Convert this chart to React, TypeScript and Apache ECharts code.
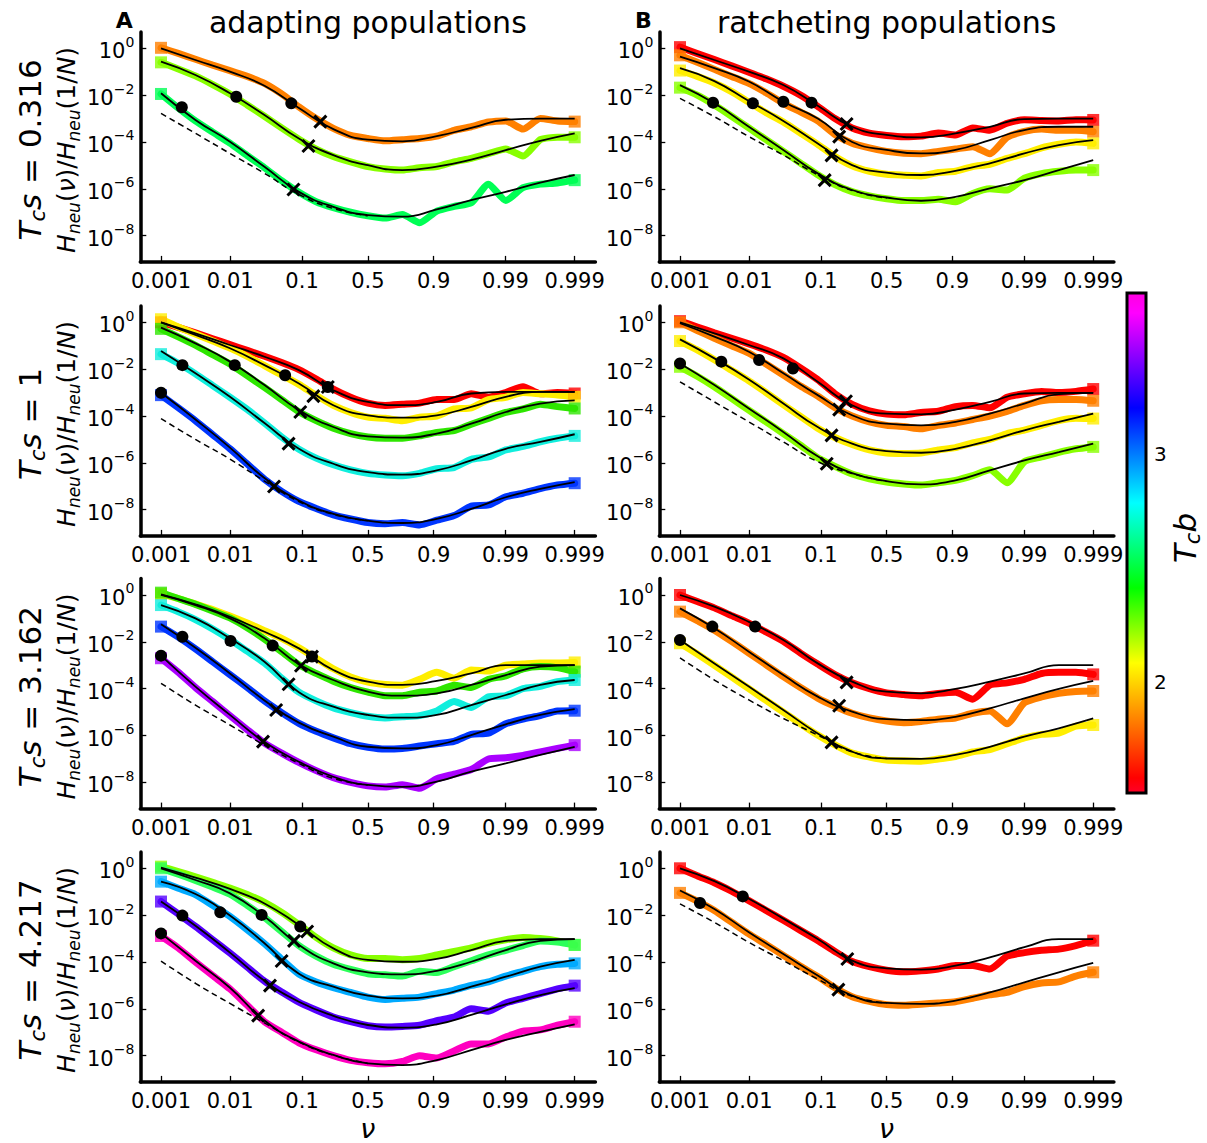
import React, { useEffect, useRef } from "react";
import * as echarts from "echarts";

// ---------- data (ν values; H values stored as log10 H) ----------
const NU_THEORY = [0.001, 0.00315, 0.0099, 0.0307, 0.0909, 0.24, 0.5, 0.76, 0.9091, 0.9693, 0.9901, 0.99685, 0.999];
const NU_DATA = [0.001, 0.00178, 0.00315, 0.00559, 0.0099, 0.0175, 0.0307, 0.0532, 0.0909, 0.151, 0.24, 0.36, 0.5, 0.64, 0.76, 0.849, 0.9091, 0.9468, 0.9693, 0.9825, 0.9901, 0.99441, 0.99685, 0.99822, 0.999];
const NU_DASH = [0.001, 0.00315, 0.0099, 0.0307, 0.0909, 0.24, 0.5];

const NU_TICKS = [0.001, 0.01, 0.1, 0.5, 0.9, 0.99, 0.999];
const NU_TICK_LABELS = ["0.001", "0.01", "0.1", "0.5", "0.9", "0.99", "0.999"];
const LOG_H_TICKS = [-8, -6, -4, -2, 0];
const TCB_TICKS = [2, 3];
const TCB_RANGE = [1.51, 3.71];
const ROW_TCS = ["0.316", "1", "3.162", "4.217"];
const COLUMN_TITLES = ["adapting populations", "ratcheting populations"];
const PANEL_LETTERS = ["A", "B"];

const COL_RED = "#ff0000";
const COL_ORANGE = "#ff8000";
const COL_YELLOW = "#ffee00";
const COL_LIME = "#88ff00";
const COL_SPRING = "#00ff55";
const COL_GREEN = "#2ee600";
const COL_CYAN = "#11eedd";
const COL_BLUE = "#0036ff";
const COL_PURPLE = "#aa00ff";
const COL_SPRING2 = "#2cff5a";
const COL_SKY = "#00aaff";
const COL_VIOLET = "#5500ff";
const COL_PINK = "#ff00c0";

// ----- A1 (Tcs = 0.316, adapting) -----
const A1_ORANGE_D = [0.02, -0.22, -0.47, -0.72, -0.95, -1.2, -1.5, -1.95, -2.5, -3.0, -3.42, -3.72, -3.85, -3.95, -3.9, -3.85, -3.75, -3.5, -3.35, -3.15, -3.1, -3.45, -3.0, -3.1, -3.13];
const A1_ORANGE_T = [0.0, -0.5, -1.0, -1.6, -2.55, -3.45, -3.9, -3.97, -3.75, -3.4, -3.05, -3.0, -3.0];
const A1_LIME_D = [-0.6, -0.88, -1.18, -1.55, -1.95, -2.42, -2.9, -3.4, -3.88, -4.3, -4.62, -4.85, -5.05, -5.15, -5.2, -5.1, -5.05, -4.85, -4.7, -4.5, -4.3, -4.6, -3.9, -3.8, -3.8];
const A1_LIME_T = [-0.57, -1.14, -1.92, -2.85, -3.85, -4.56, -4.99, -5.2, -5.05, -4.75, -4.35, -3.95, -3.63];
const A1_SPRING_D = [-1.95, -2.55, -3.1, -3.58, -4.05, -4.58, -5.1, -5.65, -6.15, -6.55, -6.8, -7.0, -7.15, -7.25, -7.1, -7.45, -6.95, -6.75, -6.6, -5.8, -6.5, -5.95, -5.8, -5.75, -5.63];
const A1_SPRING_T = [-1.92, -3.06, -3.99, -5.06, -6.13, -6.77, -7.12, -7.19, -6.88, -6.48, -6.13, -5.74, -5.41];
const A1_DASH = [-2.78, -3.63, -4.49, -5.34, -6.24, -6.84, -7.15];
const A1_CIRCLES = [[0.072, -2.35], [0.0122, -2.07], [0.002, -2.52]];
const A1_CROSSES = [[0.17, -3.13], [0.121, -4.17], [0.077, -6.03]];

// ----- B1 (Tcs = 0.316, ratcheting) -----
const B1_RED_D = [0.05, -0.22, -0.48, -0.75, -1.02, -1.3, -1.62, -2.0, -2.48, -3.0, -3.4, -3.62, -3.72, -3.78, -3.75, -3.62, -3.7, -3.4, -3.5, -3.2, -3.05, -3.08, -3.1, -3.05, -3.06];
const B1_RED_T = [0, -0.5, -1.0, -1.57, -2.45, -3.35, -3.7, -3.8, -3.63, -3.35, -3.02, -3.0, -3.0];
const B1_ORANGE_D = [-0.3, -0.6, -0.9, -1.2, -1.5, -1.9, -2.35, -2.72, -3.1, -3.68, -4.05, -4.25, -4.4, -4.48, -4.5, -4.4, -4.3, -4.2, -4.5, -3.8, -3.55, -3.45, -3.5, -3.5, -3.56];
const B1_ORANGE_T = [-0.36, -0.85, -1.42, -2.28, -3.0, -4.0, -4.34, -4.49, -4.34, -3.92, -3.49, -3.35, -3.35];
const B1_YELLOW_D = [-0.95, -1.2, -1.48, -1.85, -2.3, -2.75, -3.15, -3.62, -4.1, -4.62, -5.02, -5.25, -5.38, -5.42, -5.45, -5.3, -5.25, -5.05, -4.95, -4.7, -4.5, -4.25, -4.1, -4.0, -4.06];
const B1_YELLOW_T = [-0.85, -1.4, -2.25, -3.1, -4.06, -4.99, -5.31, -5.41, -5.23, -4.91, -4.49, -4.13, -3.92];
const B1_LIME_D = [-1.68, -2.0, -2.42, -2.9, -3.4, -3.9, -4.4, -4.9, -5.4, -5.82, -6.12, -6.3, -6.42, -6.5, -6.5, -6.45, -6.55, -6.2, -6.0, -6.05, -5.55, -5.35, -5.25, -5.2, -5.2];
const B1_LIME_T = [-1.57, -2.35, -3.35, -4.34, -5.34, -6.05, -6.37, -6.51, -6.34, -5.98, -5.63, -5.2, -4.77];
const B1_DASH = [-2.14, -2.92, -3.77, -4.56, -5.4, -6.07, -6.4];
const B1_CIRCLES = [[0.0752, -2.32], [0.0307, -2.28], [0.0113, -2.35], [0.00301, -2.32]];
const B1_CROSSES = [[0.208, -3.23], [0.17, -3.77], [0.137, -4.57], [0.112, -5.63]];

// ----- A2 (Tcs = 1, adapting) -----
const A2_RED_D = [0.0, -0.22, -0.45, -0.7, -0.95, -1.2, -1.45, -1.72, -2.02, -2.42, -2.85, -3.2, -3.45, -3.55, -3.5, -3.45, -3.3, -3.3, -3.05, -3.2, -3.0, -2.75, -3.05, -3.0, -3.04];
const A2_RED_T = [0.0, -0.47, -0.97, -1.47, -2.04, -2.9, -3.4, -3.54, -3.4, -3.04, -2.97, -2.97, -2.97];
const A2_YELLOW_D = [0.13, -0.2, -0.5, -0.8, -1.1, -1.45, -1.85, -2.25, -2.65, -3.12, -3.55, -3.85, -4.05, -4.1, -4.2, -4.05, -4.0, -3.7, -3.65, -3.3, -3.2, -3.0, -3.05, -3.1, -3.18];
const A2_YELLOW_T = [0.0, -0.54, -1.11, -1.83, -2.61, -3.54, -3.97, -4.07, -3.97, -3.61, -3.18, -2.97, -2.97];
const A2_GREEN_D = [-0.28, -0.62, -0.98, -1.38, -1.78, -2.28, -2.78, -3.3, -3.82, -4.2, -4.52, -4.75, -4.9, -4.95, -4.95, -4.85, -4.7, -4.62, -4.35, -4.1, -3.85, -3.7, -3.5, -3.6, -3.68];
const A2_GREEN_T = [-0.23, -0.9, -1.68, -2.68, -3.75, -4.47, -4.87, -4.92, -4.75, -4.33, -3.83, -3.47, -3.33];
const A2_CYAN_D = [-1.36, -1.75, -2.2, -2.7, -3.2, -3.72, -4.3, -4.9, -5.42, -5.8, -6.08, -6.3, -6.45, -6.52, -6.55, -6.45, -6.25, -6.2, -5.85, -5.75, -5.45, -5.3, -5.1, -4.95, -4.85];
const A2_CYAN_T = [-1.23, -2.18, -3.18, -4.3, -5.4, -6.04, -6.4, -6.5, -6.32, -5.9, -5.4, -5.11, -4.78];
const A2_BLUE_D = [-3.11, -3.65, -4.2, -4.8, -5.4, -6.05, -6.7, -7.22, -7.65, -7.95, -8.22, -8.4, -8.55, -8.6, -8.55, -8.65, -8.45, -8.25, -7.85, -7.8, -7.45, -7.3, -7.1, -6.95, -6.87];
const A2_BLUE_T = [-3.01, -4.15, -5.35, -6.65, -7.61, -8.18, -8.47, -8.57, -8.39, -7.97, -7.47, -7.11, -6.82];
const A2_DASH = [-4.11, -5.0, -5.84, -6.78, -7.65, -8.2, -8.47];
const A2_CIRCLES = [[0.208, -2.76], [0.0594, -2.26], [0.0116, -1.83], [0.00204, -1.83], [0.001, -3.01]];
const A2_CROSSES = [[0.208, -2.76], [0.1395, -3.15], [0.0948, -3.83], [0.0662, -5.18], [0.0418, -7.01]];

// ----- B2 (Tcs = 1, ratcheting) -----
const B2_RED_D = [0.05, -0.2, -0.45, -0.68, -0.92, -1.18, -1.5, -1.95, -2.45, -3.05, -3.5, -3.78, -3.92, -3.95, -3.85, -3.8, -3.6, -3.55, -3.65, -3.2, -3.05, -2.95, -3.0, -2.95, -2.85];
const B2_RED_T = [0, -0.47, -0.97, -1.54, -2.54, -3.54, -3.9, -3.93, -3.73, -3.4, -3.04, -3.01, -3.01];
const B2_ORANGE_D = [0.0, -0.35, -0.68, -1.0, -1.32, -1.78, -2.25, -2.72, -3.15, -3.65, -4.0, -4.25, -4.4, -4.45, -4.55, -4.4, -4.3, -4.15, -4.0, -3.8, -3.55, -3.35, -3.3, -3.3, -3.35];
const B2_ORANGE_T = [-0.04, -0.61, -1.26, -2.18, -3.11, -3.97, -4.33, -4.4, -4.25, -3.9, -3.47, -3.07, -3.01];
const B2_YELLOW_D = [-0.8, -1.18, -1.6, -2.05, -2.5, -3.0, -3.52, -4.02, -4.52, -4.92, -5.22, -5.45, -5.58, -5.6, -5.58, -5.45, -5.35, -5.15, -5.0, -4.75, -4.6, -4.4, -4.2, -4.1, -4.11];
const B2_YELLOW_T = [-0.73, -1.54, -2.44, -3.47, -4.47, -5.18, -5.5, -5.57, -5.4, -5.04, -4.61, -4.25, -3.9];
const B2_LIME_D = [-1.9, -2.3, -2.75, -3.25, -3.75, -4.25, -4.75, -5.25, -5.78, -6.15, -6.48, -6.68, -6.82, -6.9, -6.95, -6.85, -6.75, -6.55, -6.3, -6.85, -5.95, -5.75, -5.55, -5.4, -5.32];
const B2_LIME_T = [-1.76, -2.68, -3.68, -4.68, -5.72, -6.44, -6.78, -6.92, -6.75, -6.32, -5.9, -5.54, -5.18];
const B2_DASH = [-2.54, -3.4, -4.25, -5.11, -5.95, -6.46, -6.8];
const B2_CIRCLES = [[0.0418, -1.97], [0.0139, -1.61], [0.00397, -1.68], [0.001, -1.76]];
const B2_CROSSES = [[0.2045, -3.37], [0.17, -3.73], [0.137, -4.83], [0.119, -6.04]];

// ----- A3 (Tcs = 3.162, adapting) -----
const A3_YELLOW_D = [0.05, -0.15, -0.38, -0.62, -0.9, -1.2, -1.52, -1.85, -2.25, -2.7, -3.15, -3.5, -3.72, -3.82, -3.85, -3.6, -3.3, -3.55, -3.2, -3.25, -3.0, -2.95, -2.9, -2.9, -2.88];
const A3_YELLOW_T = [0.03, -0.4, -0.93, -1.57, -2.28, -3.2, -3.7, -3.84, -3.67, -3.35, -2.99, -2.99, -2.99];
const A3_GREEN_D = [0.1, -0.15, -0.4, -0.68, -0.98, -1.4, -1.88, -2.42, -2.98, -3.35, -3.68, -3.95, -4.15, -4.3, -4.3, -4.15, -4.1, -3.85, -3.95, -3.6, -3.45, -3.15, -3.05, -3.1, -3.27];
const A3_GREEN_T = [0, -0.43, -1.0, -1.85, -2.96, -3.63, -4.13, -4.3, -4.2, -3.84, -3.42, -3.06, -2.99];
const A3_CYAN_D = [-0.43, -0.72, -1.05, -1.45, -1.9, -2.4, -2.9, -3.55, -4.15, -4.52, -4.82, -5.02, -5.18, -5.25, -5.2, -5.15, -4.95, -4.55, -4.8, -4.35, -4.3, -4.0, -3.9, -3.7, -3.63];
const A3_CYAN_T = [-0.43, -1.0, -1.85, -2.85, -4.15, -4.77, -5.12, -5.24, -5.12, -4.7, -4.27, -3.84, -3.63];
const A3_BLUE_D = [-1.35, -1.8, -2.3, -2.85, -3.4, -3.95, -4.52, -5.02, -5.48, -5.82, -6.1, -6.35, -6.5, -6.58, -6.55, -6.45, -6.35, -6.25, -5.95, -5.9, -5.5, -5.3, -5.15, -4.95, -4.94];
const A3_BLUE_T = [-1.25, -2.25, -3.35, -4.5, -5.45, -6.05, -6.48, -6.55, -6.41, -5.98, -5.52, -5.12, -4.87];
const A3_PURPLE_D = [-2.7, -3.3, -3.95, -4.55, -5.15, -5.75, -6.32, -6.75, -7.15, -7.5, -7.8, -8.0, -8.15, -8.2, -8.1, -8.25, -7.85, -7.65, -7.45, -7.0, -6.95, -6.85, -6.7, -6.55, -6.41];
const A3_PURPLE_T = [-2.59, -3.91, -5.12, -6.28, -7.12, -7.76, -8.11, -8.19, -7.97, -7.54, -7.19, -6.83, -6.48];
const A3_DASH = [-3.77, -4.7, -5.55, -6.41, -7.19, -7.83, -8.11];
const A3_CIRCLES = [[0.134, -2.63], [0.04, -2.16], [0.0101, -1.96], [0.00204, -1.78], [0.001, -2.59]];
const A3_CROSSES = [[0.134, -2.63], [0.0968, -3.02], [0.0662, -3.81], [0.0447, -4.91], [0.0293, -6.26]];

// ----- B3 (Tcs = 3.162, ratcheting) -----
const B3_RED_D = [0.0, -0.28, -0.55, -0.88, -1.2, -1.58, -1.98, -2.48, -2.95, -3.4, -3.75, -4.0, -4.18, -4.25, -4.3, -4.2, -4.15, -4.45, -3.85, -3.75, -3.6, -3.35, -3.3, -3.3, -3.39];
const B3_RED_T = [0, -0.5, -1.15, -1.92, -2.92, -3.7, -4.13, -4.2, -4.01, -3.7, -3.35, -2.99, -2.99];
const B3_ORANGE_D = [-0.71, -1.1, -1.5, -1.98, -2.48, -2.98, -3.48, -3.95, -4.4, -4.75, -5.05, -5.25, -5.38, -5.45, -5.4, -5.3, -5.25, -5.05, -4.95, -5.5, -4.6, -4.35, -4.2, -4.12, -4.1];
const B3_ORANGE_T = [-0.57, -1.42, -2.42, -3.42, -4.34, -4.98, -5.3, -5.34, -5.2, -4.84, -4.41, -4.01, -3.67];
const B3_YELLOW_D = [-2.06, -2.52, -3.0, -3.5, -4.0, -4.5, -5.0, -5.5, -5.98, -6.4, -6.75, -6.92, -7.05, -7.08, -7.1, -7.0, -6.9, -6.7, -6.6, -6.35, -6.1, -5.95, -5.9, -5.6, -5.55];
const B3_YELLOW_T = [-1.92, -2.92, -3.91, -4.91, -5.91, -6.69, -6.98, -7.0, -6.83, -6.48, -6.05, -5.69, -5.27];
const B3_DASH = [-2.68, -3.63, -4.48, -5.27, -5.98, -6.7, -6.98];
const B3_CIRCLES = [[0.0122, -1.35], [0.00294, -1.35], [0.001, -1.92]];
const B3_CROSSES = [[0.208, -3.73], [0.17, -4.73], [0.137, -6.29]];

// ----- A4 (Tcs = 4.217, adapting) -----
const A4_LIME_D = [0.07, -0.14, -0.36, -0.6, -0.84, -1.12, -1.45, -1.88, -2.4, -2.95, -3.4, -3.7, -3.85, -3.85, -3.9, -3.85, -3.7, -3.55, -3.4, -3.2, -3.05, -2.95, -3.0, -3.1, -3.27];
const A4_LIME_T = [0.03, -0.4, -0.88, -1.5, -2.42, -3.42, -3.91, -3.99, -3.87, -3.49, -3.1, -3.02, -3.02];
const A4_SPRING_D = [0.0, -0.25, -0.52, -0.8, -1.1, -1.58, -2.1, -2.7, -3.3, -3.75, -4.1, -4.32, -4.5, -4.55, -4.6, -4.4, -4.45, -4.2, -3.95, -3.7, -3.5, -3.3, -3.1, -3.15, -3.27];
const A4_SPRING_T = [0, -0.5, -1.07, -2.06, -3.27, -4.06, -4.44, -4.53, -4.38, -3.99, -3.49, -3.1, -3.02];
const A4_SKY_D = [-0.57, -0.85, -1.12, -1.58, -2.05, -2.62, -3.22, -3.88, -4.52, -4.85, -5.1, -5.3, -5.5, -5.6, -5.55, -5.5, -5.35, -5.2, -5.0, -4.85, -4.6, -4.4, -4.2, -4.1, -4.06];
const A4_SKY_T = [-0.57, -1.1, -2.02, -3.2, -4.5, -5.05, -5.44, -5.55, -5.44, -5.05, -4.63, -4.2, -3.91];
const A4_VIOLET_D = [-1.42, -1.95, -2.48, -3.05, -3.62, -4.22, -4.82, -5.28, -5.72, -6.05, -6.35, -6.55, -6.72, -6.78, -6.75, -6.7, -6.5, -6.35, -6.0, -6.1, -5.75, -5.55, -5.35, -5.15, -5.01];
const A4_VIOLET_T = [-1.42, -2.45, -3.6, -4.8, -5.7, -6.3, -6.69, -6.8, -6.66, -6.26, -5.81, -5.41, -5.12];
const A4_PINK_D = [-2.89, -3.4, -4.0, -4.58, -5.15, -5.85, -6.55, -7.0, -7.45, -7.75, -8.0, -8.2, -8.3, -8.35, -8.25, -8.0, -8.1, -7.8, -7.5, -7.5, -7.2, -6.95, -6.9, -6.7, -6.55];
const A4_PINK_T = [-2.78, -3.95, -5.1, -6.5, -7.4, -7.97, -8.33, -8.4, -8.19, -7.76, -7.33, -6.98, -6.66];
const A4_DASH = [-3.96, -4.91, -5.77, -6.6, -7.42, -7.98, -8.33];
const A4_CIRCLES = [[0.0948, -2.49], [0.028, -1.99], [0.00719, -1.88], [0.00204, -2.02], [0.001, -2.78]];
const A4_CROSSES = [[0.1164, -2.7], [0.0784, -3.1], [0.0532, -3.96], [0.0367, -5.01], [0.025, -6.29]];

// ----- B4 (Tcs = 4.217, ratcheting) -----
const B4_RED_D = [0.0, -0.32, -0.62, -0.98, -1.38, -1.8, -2.22, -2.65, -3.08, -3.55, -3.98, -4.2, -4.35, -4.42, -4.38, -4.3, -4.15, -4.15, -4.3, -3.75, -3.6, -3.5, -3.45, -3.3, -3.09];
const B4_RED_T = [0, -0.55, -1.3, -2.15, -3.02, -3.94, -4.27, -4.33, -4.16, -3.8, -3.37, -3.02, -3.02];
const B4_ORANGE_D = [-1.05, -1.4, -1.8, -2.3, -2.8, -3.25, -3.72, -4.18, -4.62, -5.1, -5.48, -5.68, -5.82, -5.85, -5.8, -5.75, -5.7, -5.55, -5.4, -5.3, -5.05, -4.9, -4.85, -4.6, -4.44];
const B4_ORANGE_T = [-0.95, -1.74, -2.73, -3.66, -4.58, -5.44, -5.75, -5.79, -5.65, -5.3, -4.87, -4.44, -4.04];
const B4_DASH = [-1.52, -2.31, -3.16, -3.94, -4.73, -5.46, -5.75];
const B4_CIRCLES = [[0.0081, -1.2], [0.00195, -1.48]];
const B4_CROSSES = [[0.212, -3.87], [0.1664, -5.18]];

// ---------- panel table built from the arrays ----------
const PANELS = [
  { row: 0, col: 0, curves: [[COL_ORANGE, A1_ORANGE_D, A1_ORANGE_T], [COL_LIME, A1_LIME_D, A1_LIME_T], [COL_SPRING, A1_SPRING_D, A1_SPRING_T]], dash: A1_DASH, circles: A1_CIRCLES, crosses: A1_CROSSES },
  { row: 0, col: 1, curves: [[COL_RED, B1_RED_D, B1_RED_T], [COL_ORANGE, B1_ORANGE_D, B1_ORANGE_T], [COL_YELLOW, B1_YELLOW_D, B1_YELLOW_T], [COL_LIME, B1_LIME_D, B1_LIME_T]], dash: B1_DASH, circles: B1_CIRCLES, crosses: B1_CROSSES },
  { row: 1, col: 0, curves: [[COL_RED, A2_RED_D, A2_RED_T], [COL_YELLOW, A2_YELLOW_D, A2_YELLOW_T], [COL_GREEN, A2_GREEN_D, A2_GREEN_T], [COL_CYAN, A2_CYAN_D, A2_CYAN_T], [COL_BLUE, A2_BLUE_D, A2_BLUE_T]], dash: A2_DASH, circles: A2_CIRCLES, crosses: A2_CROSSES },
  { row: 1, col: 1, curves: [[COL_RED, B2_RED_D, B2_RED_T], [COL_ORANGE, B2_ORANGE_D, B2_ORANGE_T], [COL_YELLOW, B2_YELLOW_D, B2_YELLOW_T], [COL_LIME, B2_LIME_D, B2_LIME_T]], dash: B2_DASH, circles: B2_CIRCLES, crosses: B2_CROSSES },
  { row: 2, col: 0, curves: [[COL_YELLOW, A3_YELLOW_D, A3_YELLOW_T], [COL_GREEN, A3_GREEN_D, A3_GREEN_T], [COL_CYAN, A3_CYAN_D, A3_CYAN_T], [COL_BLUE, A3_BLUE_D, A3_BLUE_T], [COL_PURPLE, A3_PURPLE_D, A3_PURPLE_T]], dash: A3_DASH, circles: A3_CIRCLES, crosses: A3_CROSSES },
  { row: 2, col: 1, curves: [[COL_RED, B3_RED_D, B3_RED_T], [COL_ORANGE, B3_ORANGE_D, B3_ORANGE_T], [COL_YELLOW, B3_YELLOW_D, B3_YELLOW_T]], dash: B3_DASH, circles: B3_CIRCLES, crosses: B3_CROSSES },
  { row: 3, col: 0, curves: [[COL_LIME, A4_LIME_D, A4_LIME_T], [COL_SPRING2, A4_SPRING_D, A4_SPRING_T], [COL_SKY, A4_SKY_D, A4_SKY_T], [COL_VIOLET, A4_VIOLET_D, A4_VIOLET_T], [COL_PINK, A4_PINK_D, A4_PINK_T]], dash: A4_DASH, circles: A4_CIRCLES, crosses: A4_CROSSES },
  { row: 3, col: 1, curves: [[COL_RED, B4_RED_D, B4_RED_T], [COL_ORANGE, B4_ORANGE_D, B4_ORANGE_T]], dash: B4_DASH, circles: B4_CIRCLES, crosses: B4_CROSSES },
];

// ---------- layout ----------
const FONT = "DejaVu Sans";
const GRID_LEFT = [140.3, 659.3];
const GRID_W = [455.1, 454.6];
const GRID_TOP = [31.9, 305.9, 578.6, 851.9];
const GRID_H = 230;
const X_MIN = -3.3, X_MAX = 3.3;
const Y_MIN = -9.12, Y_MAX = 0.7;
const CB = { x: 1127, y: 293, w: 19, h: 500 };

const logit = (nu: number) => Math.log10(nu / (1 - nu));
const TICK_L = NU_TICKS.map(logit);

function supLabel(v: number) {
  const e = v === 0 ? "0" : "\u2212" + String(-v);
  return `{b|10}{s|${e}}`;
}

function buildOption() {
  const grid: any[] = [];
  const xAxis: any[] = [];
  const yAxis: any[] = [];
  const series: any[] = [];

  PANELS.forEach((p, gi) => {
    grid.push({ left: GRID_LEFT[p.col], top: GRID_TOP[p.row], width: GRID_W[p.col], height: GRID_H, outerBoundsMode: "none", containLabel: false });
    xAxis.push({
      type: "value", gridIndex: gi, min: X_MIN, max: X_MAX,
      axisLine: { onZero: false, lineStyle: { color: "#000", width: 3.5 } },
      axisTick: { inside: true, length: 6, customValues: TICK_L, lineStyle: { color: "#000", width: 1.3 } },
      axisLabel: {
        customValues: TICK_L, margin: 9, color: "#000", fontSize: 21, fontFamily: FONT,
        formatter: (v: number) => {
          let bi = 0, bd = 1e9;
          TICK_L.forEach((t, i) => { const d = Math.abs(t - v); if (d < bd) { bd = d; bi = i; } });
          return NU_TICK_LABELS[bi];
        },
      },
      splitLine: { show: false },
    });
    yAxis.push({
      type: "value", gridIndex: gi, min: Y_MIN, max: Y_MAX,
      axisLine: { onZero: false, lineStyle: { color: "#000", width: 3.5 } },
      axisTick: { inside: true, length: 6, customValues: LOG_H_TICKS, lineStyle: { color: "#000", width: 1.3 } },
      axisLabel: {
        customValues: LOG_H_TICKS, margin: 6, color: "#000",
        formatter: (v: number) => supLabel(Math.round(v)),
        rich: {
          b: { fontSize: 21, fontFamily: FONT, color: "#000", lineHeight: 27, verticalAlign: "bottom" },
          s: { fontSize: 14, fontFamily: FONT, color: "#000", lineHeight: 27, verticalAlign: "top" },
        },
      },
      splitLine: { show: false },
    });

    p.curves.forEach(([color, d]: any) => {
      const pts = NU_DATA.map((nu, i) => [logit(nu), d[i]]);
      series.push({
        type: "line", xAxisIndex: gi, yAxisIndex: gi, data: pts, showSymbol: false, symbol: "none", smooth: 0.2,
        lineStyle: { color, width: 7, join: "round", cap: "round" }, itemStyle: { color }, z: 2, silent: true,
      });
      series.push({
        type: "scatter", xAxisIndex: gi, yAxisIndex: gi, data: [pts[0], pts[pts.length - 1]],
        symbol: "rect", symbolSize: 12, itemStyle: { color }, z: 2, silent: true,
      });
    });
    p.curves.forEach(([, , t]: any) => {
      series.push({
        type: "line", xAxisIndex: gi, yAxisIndex: gi, data: NU_THEORY.map((nu, i) => [logit(nu), t[i]]),
        showSymbol: false, symbol: "none", smooth: 0.5,
        lineStyle: { color: "#000", width: 1.8 }, z: 4, silent: true,
      });
    });
    series.push({
      type: "line", xAxisIndex: gi, yAxisIndex: gi, data: NU_DASH.map((nu, i) => [logit(nu), p.dash[i]]),
      showSymbol: false, symbol: "none", smooth: 0.5,
      lineStyle: { color: "#000", width: 1.5, type: [6, 4] }, z: 3, silent: true,
    });
    series.push({
      type: "scatter", xAxisIndex: gi, yAxisIndex: gi, data: p.circles.map(([nu, h]: any) => [logit(nu), h]),
      symbol: "circle", symbolSize: 12, itemStyle: { color: "#000", opacity: 1 }, z: 6, silent: true,
    });
    series.push({
      type: "scatter", xAxisIndex: gi, yAxisIndex: gi, data: p.crosses.map(([nu, h]: any) => [logit(nu), h]),
      symbol: "path://M0,0L10,10M10,0L0,10", symbolSize: 12,
      itemStyle: { color: "rgba(0,0,0,0)", borderColor: "#000", borderWidth: 3, opacity: 1 }, z: 6, silent: true,
    });
  });

  const graphic: any[] = [];
  COLUMN_TITLES.forEach((t, c) => {
    const cx = GRID_LEFT[c] + GRID_W[c] / 2;
    graphic.push({ type: "text", x: cx, y: 22, style: { text: t, fontSize: 30, fontFamily: FONT, fill: "#000", align: "center", verticalAlign: "middle", textAlign: "center", textVerticalAlign: "middle" } });
    graphic.push({ type: "text", x: GRID_LEFT[c] - 16, y: 20, style: { text: PANEL_LETTERS[c], fontSize: 22, fontWeight: "bold", fontFamily: FONT, fill: "#000", align: "center", verticalAlign: "middle", textAlign: "center", textVerticalAlign: "middle" } });
  });
  const rich = {
    i: { fontSize: 31, fontStyle: "italic", fontFamily: FONT, fill: "#000", color: "#000", lineHeight: 40, verticalAlign: "middle" },
    n: { fontSize: 31, fontFamily: FONT, fill: "#000", color: "#000", lineHeight: 40, verticalAlign: "middle" },
    sub: { fontSize: 21, fontStyle: "italic", fontFamily: FONT, fill: "#000", color: "#000", lineHeight: 40, verticalAlign: "bottom", padding: [0, 0, 2, 0] },
    hi: { fontSize: 25, fontStyle: "italic", fontFamily: FONT, fill: "#000", color: "#000", lineHeight: 34, verticalAlign: "middle" },
    hn: { fontSize: 25, fontFamily: FONT, fill: "#000", color: "#000", lineHeight: 34, verticalAlign: "middle" },
    hs: { fontSize: 17, fontStyle: "italic", fontFamily: FONT, fill: "#000", color: "#000", lineHeight: 34, verticalAlign: "bottom", padding: [0, 0, 1, 0] },
  };
  ROW_TCS.forEach((v, r) => {
    const cy = GRID_TOP[r] + GRID_H / 2 + 3;
    graphic.push({ type: "text", x: 30, y: cy, rotation: Math.PI / 2, style: { text: `{i|T}{sub|c}{i|s}{n| = ${v}}`, rich, align: "center", verticalAlign: "middle", textAlign: "center", textVerticalAlign: "middle" } });
    graphic.push({ type: "text", x: 66, y: cy, rotation: Math.PI / 2, style: { text: `{hi|H}{hs|neu}{hn|(}{hi|ν}{hn|)/}{hi|H}{hs|neu}{hn|(1/}{hi|N}{hn|)}`, rich, align: "center", verticalAlign: "middle", textAlign: "center", textVerticalAlign: "middle" } });
  });
  [0, 1].forEach((c) => {
    graphic.push({ type: "text", x: GRID_LEFT[c] + GRID_W[c] / 2, y: 1128, style: { text: "ν", fontSize: 27, fontStyle: "italic", fontFamily: FONT, fill: "#000", align: "center", verticalAlign: "middle", textAlign: "center", textVerticalAlign: "middle" } });
  });
  graphic.push({
    type: "rect", shape: { x: CB.x, y: CB.y, width: CB.w, height: CB.h },
    style: {
      fill: new echarts.graphic.LinearGradient(0, 1, 0, 0, [
        { offset: 0, color: "#ff0029" }, { offset: 0.03, color: "#ff0000" }, { offset: 0.26, color: "#ffff00" },
        { offset: 0.41, color: "#00ff00" }, { offset: 0.58, color: "#00ffff" }, { offset: 0.77, color: "#0000ff" },
        { offset: 0.96, color: "#ff00ff" }, { offset: 1, color: "#ff00e0" },
      ]),
      stroke: "#000", lineWidth: 3,
    },
  });
  TCB_TICKS.forEach((v) => {
    const y = CB.y + CB.h - ((v - TCB_RANGE[0]) / (TCB_RANGE[1] - TCB_RANGE[0])) * CB.h;
    graphic.push({ type: "text", x: CB.x + CB.w + 8, y, style: { text: String(v), fontSize: 20, fontFamily: FONT, fill: "#000", align: "left", verticalAlign: "middle", textAlign: "left", textVerticalAlign: "middle" } });
  });
  graphic.push({ type: "text", x: 1185, y: 538, rotation: Math.PI / 2, style: { text: `{i|T}{sub|c}{i|b}`, rich, align: "center", verticalAlign: "middle", textAlign: "center", textVerticalAlign: "middle" } });

  return { animation: false, backgroundColor: "#fff", grid, xAxis, yAxis, series, graphic };
}

export default function App() {
  const ref = useRef<HTMLDivElement>(null);
  useEffect(() => {
    if (!ref.current) return;
    const chart = echarts.init(ref.current, undefined, { renderer: "svg" });
    chart.setOption(buildOption() as any);
    return () => chart.dispose();
  }, []);
  return <div ref={ref} style={{ position: "absolute", left: 0, top: 0, width: 1207, height: 1143, background: "#fff" }} />;
}
